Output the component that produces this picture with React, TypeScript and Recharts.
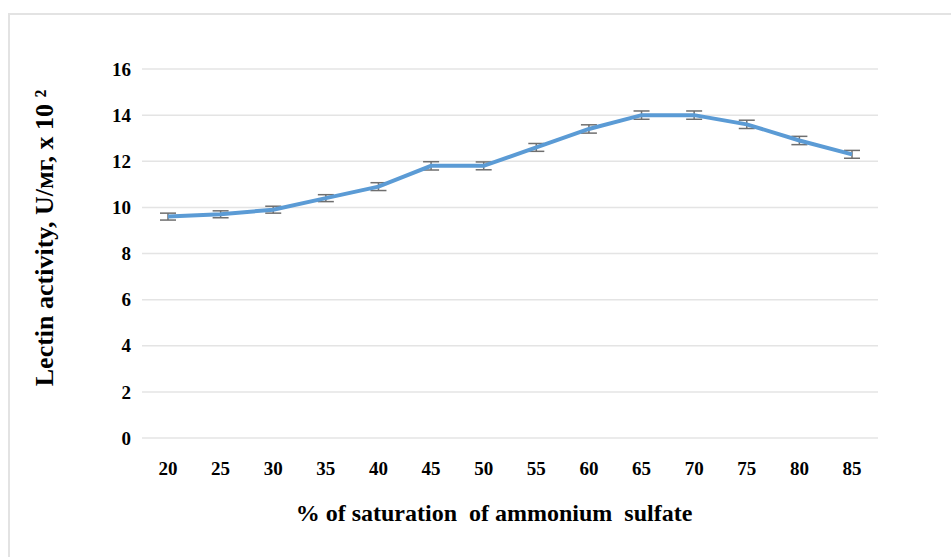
import { LineChart, Line, XAxis, YAxis, CartesianGrid, ErrorBar } from 'recharts';

const saturation = ['20', '25', '30', '35', '40', '45', '50', '55', '60', '65', '70', '75', '80', '85'];
const activity = [9.6, 9.7, 9.9, 10.4, 10.9, 11.8, 11.8, 12.6, 13.4, 14.0, 14.0, 13.6, 12.9, 12.3];
const activityErr = [0.15, 0.15, 0.15, 0.15, 0.17, 0.18, 0.17, 0.17, 0.18, 0.18, 0.18, 0.18, 0.18, 0.17];
const yTicks = [0, 2, 4, 6, 8, 10, 12, 14, 16];

const data = saturation.map((s, i) => ({ s, v: activity[i], err: activityErr[i] }));

const font = '"Liberation Serif", "Times New Roman", serif';

export default function App() {
  return (
    <div style={{ position: 'absolute', left: 0, top: 0, width: 951, height: 557, background: '#fff' }}>
      <div
        style={{
          position: 'absolute',
          left: 8,
          top: 13,
          right: 0,
          bottom: 0,
          borderLeft: '2px solid #e3e3e3',
          borderTop: '2px solid #e3e3e3',
        }}
      />
      <LineChart
        width={951}
        height={557}
        data={data}
        margin={{ top: 69, right: 73, bottom: 89, left: 0 }}
        style={{ position: 'absolute', left: 0, top: 0 }}
      >
        <CartesianGrid vertical={false} stroke="#e4e4e4" strokeWidth={1.5} />
        <XAxis
          dataKey="s"
          height={30}
          padding={{ left: 26, right: 26 }}
          axisLine={false}
          tickLine={false}
          tickMargin={18}
          tick={{ fill: '#000', fontFamily: font, fontWeight: 'bold', fontSize: 19 }}
          label={{
            content: () => (
              <text
                x={494}
                y={521}
                textAnchor="middle"
                fontFamily={font}
                fontWeight="bold"
                fontSize={24}
                fill="#000"
                style={{ whiteSpace: 'pre' }}
              >
                % of saturation  of ammonium  sulfate
              </text>
            ),
          }}
        />
        <YAxis
          width={142}
          domain={[0, 16]}
          ticks={yTicks}
          axisLine={false}
          tickLine={false}
          tickMargin={5}
          tick={{ fill: '#000', fontFamily: font, fontWeight: 'bold', fontSize: 19 }}
          label={{
            content: () => (
              <text
                x={53}
                y={238}
                transform="rotate(-90 53 238)"
                textAnchor="middle"
                fontFamily={font}
                fontWeight="bold"
                fontSize={26}
                fill="#000"
              >
                Lectin activity, U/мг, x 10 ²
              </text>
            ),
          }}
        />
        <Line
          type="linear"
          dataKey="v"
          stroke="#5B9BD5"
          strokeWidth={4}
          dot={false}
          isAnimationActive={false}
        >
          <ErrorBar dataKey="err" width={8} stroke="#6f6f6f" strokeWidth={1.5} isAnimationActive={false} />
        </Line>
      </LineChart>
    </div>
  );
}
